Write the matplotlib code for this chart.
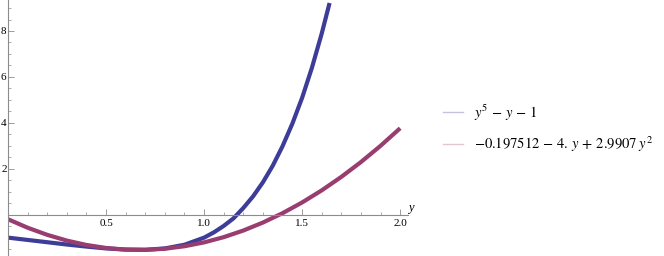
import matplotlib
matplotlib.use("Agg")
import matplotlib.pyplot as plt
from matplotlib.ticker import MultipleLocator, FixedLocator

plt.rcParams['font.family'] = ['Liberation Serif', 'DejaVu Serif']
plt.rcParams['mathtext.fontset'] = 'stix'

# values
y_blue = [0.0, 0.1, 0.2, 0.3, 0.4, 0.5, 0.6, 0.7, 0.8, 0.9, 1.0, 1.05, 1.1, 1.15,
          1.2, 1.25, 1.3, 1.35, 1.4, 1.45, 1.5, 1.55, 1.6, 1.64]
f_blue = [-1.0, -1.10, -1.20, -1.30, -1.39, -1.47, -1.52, -1.53, -1.47, -1.31, -1.0,
          -0.77, -0.49, -0.16, 0.29, 0.80, 1.41, 2.13, 2.98, 3.96, 5.09, 6.40, 7.89, 9.22]
y_pink = [0.0, 0.1, 0.2, 0.3, 0.4, 0.5, 0.6, 0.7, 0.8, 0.9, 1.0,
          1.1, 1.2, 1.3, 1.4, 1.5, 1.6, 1.7, 1.8, 1.9, 2.0]
f_pink = [-0.198, -0.568, -0.878, -1.128, -1.319, -1.450, -1.521, -1.532, -1.484, -1.375, -1.207,
          -0.979, -0.691, -0.343, 0.064, 0.532, 1.059, 1.646, 2.292, 2.999, 3.765]
labels = [r'$y^5\,-\,y\,-\,1$', r'$-0.197512\,-\,4.\,y\,+\,2.9907\;y^2$']
x_major = [0.5, 1.0, 1.5, 2.0]
y_major = [2, 4, 6, 8]

blue = '#3d3d99'
pink = '#993d71'
axcol = '#8c8c8c'

fig = plt.figure(figsize=(6.64, 2.56), dpi=100)
ax = fig.add_axes([8/664, 0, 400/664, 1])
ax.plot(y_blue, f_blue, color=blue, lw=3.0, solid_capstyle='butt')
ax.plot(y_pink, f_pink, color=pink, lw=3.0, solid_capstyle='butt')
ax.set_xlim(0, 2.04)
ax.set_ylim(-1.80, 9.35)

for s in ['top', 'right']:
    ax.spines[s].set_visible(False)
ax.spines['left'].set_position(('data', 0))
ax.spines['bottom'].set_position(('data', 0))
for s in ['left', 'bottom']:
    ax.spines[s].set_color(axcol)
    ax.spines[s].set_linewidth(0.8)

ax.xaxis.set_major_locator(FixedLocator(x_major))
ax.xaxis.set_minor_locator(MultipleLocator(0.1))
ax.yaxis.set_major_locator(FixedLocator(y_major))
ax.yaxis.set_minor_locator(MultipleLocator(0.5))
ax.set_xticklabels(['0.5', '1.0', '1.5', '2.0'])
ax.set_yticklabels(['2', '4', '6', '8'])
ax.tick_params(which='major', direction='in', length=4, width=0.6, color=axcol,
               labelsize=8, pad=3)
ax.tick_params(which='minor', direction='in', length=2.2, width=0.5, color=axcol)
ax.tick_params(axis='y', pad=1)
ax.patch.set_visible(False)

ax.text(1.0, 0.012, 'y', transform=ax.get_yaxis_transform(), fontsize=9,
        style='italic', ha='left', va='bottom')

h1, = ax.plot([], [], color='#c4c4e0', lw=1)
h2, = ax.plot([], [], color='#e2c6d4', lw=1)
fig.legend([h1, h2], labels, loc='center left', bbox_to_anchor=(443/664, 1-128/256),
           frameon=False, fontsize=10.5, handlelength=1.4, handletextpad=0.7,
           labelspacing=0.8, borderpad=0, borderaxespad=0)

fig.savefig('out.png', dpi=100)
